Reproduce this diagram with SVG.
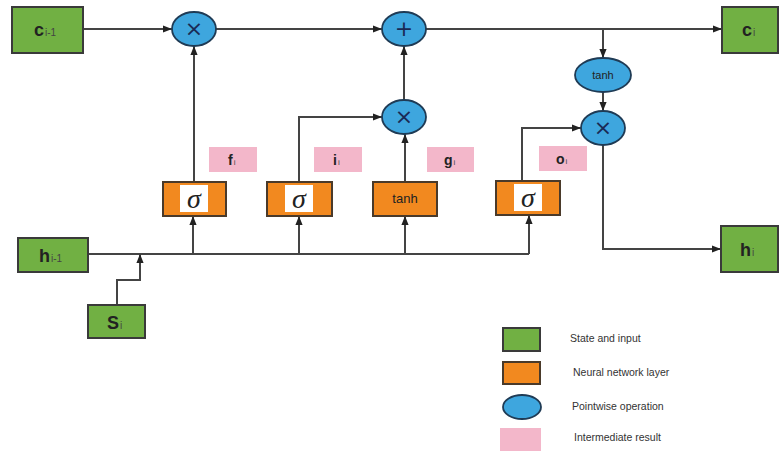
<svg xmlns="http://www.w3.org/2000/svg" width="779" height="451" viewBox="0 0 779 451">
<defs>
<marker id="ah" viewBox="0 0 10 10" refX="10" refY="5" markerWidth="9" markerHeight="9" markerUnits="userSpaceOnUse" orient="auto"><path d="M0,1 L10,5 L0,9 z" fill="#222"/></marker>
<style>
.st{fill:#71b043;stroke:#3a3a3a;stroke-width:2}
.nn{fill:#f2891f;stroke:#4a3a2a;stroke-width:2}
.pw{fill:#3ea6de;stroke:#1f3b55;stroke-width:1.8}
.ir{fill:#f3b7ca}
.wb{fill:#fff}
.ln{fill:none;stroke:#444;stroke-width:2;marker-end:url(#ah)}
.ln0{fill:none;stroke:#444;stroke-width:2}
.lb{font-family:"Liberation Sans",Arial,sans-serif;font-weight:bold;font-size:18px;fill:#222}
.sb{font-family:"Liberation Sans",Arial,sans-serif;font-size:10px;font-weight:normal;fill:#444}
.op{font-family:"DejaVu Sans",sans-serif;font-size:22px;fill:#1a2a55;text-anchor:middle}
.tn{font-family:"Liberation Sans",Arial,sans-serif;font-size:13px;fill:#222;text-anchor:middle}
.sg{font-family:"Liberation Serif","Times New Roman",serif;font-style:italic;font-size:28px;fill:#222;text-anchor:middle}
.lg{font-family:"Liberation Sans",Arial,sans-serif;font-size:10.5px;fill:#333}
</style>
</defs>
<rect width="779" height="451" fill="#fff"/>
<g id="connectors">
<path class="ln" d="M83,29 H172"/>
<path class="ln" d="M216,29 H382"/>
<path class="ln" d="M426,29 H722"/>
<path class="ln" d="M603,29 V58"/>
<path class="ln" d="M603,92 V111"/>
<path class="ln" d="M603,145 V249 H721"/>
<path class="ln" d="M194,182 V46"/>
<path class="ln" d="M299,182 V117 H382"/>
<path class="ln" d="M405,182 V134"/>
<path class="ln" d="M404,100 V46"/>
<path class="ln" d="M522,181 V128 H581"/>
<path class="ln0" d="M88,254 H529"/>
<path class="ln" d="M529,254 V215"/>
<path class="ln" d="M193,254 V216"/>
<path class="ln" d="M299,254 V216"/>
<path class="ln" d="M405,254 V216"/>
<path class="ln" d="M117,305 V280 H140 V254"/>
</g>
<g id="c_prev"><rect class="st" x="12" y="7" width="71" height="46"/><text class="lb" x="34" y="36">c<tspan class="sb" dx="1">i-1</tspan></text></g>
<g id="c_i"><rect class="st" x="722" y="7" width="56" height="46"/><text class="lb" x="742" y="36">c<tspan class="sb" dx="1">i</tspan></text></g>
<g id="h_prev"><rect class="st" x="18" y="238" width="70" height="34"/><text class="lb" x="39" y="262">h<tspan class="sb" dx="1">i-1</tspan></text></g>
<g id="h_i"><rect class="st" x="721" y="226" width="57" height="46"/><text class="lb" x="740" y="256">h<tspan class="sb" dx="1">i</tspan></text></g>
<g id="s_i"><rect class="st" x="88" y="305" width="57" height="33"/><text class="lb" x="107" y="329">S<tspan class="sb" dx="1">i</tspan></text></g>
<g id="mul_f"><ellipse class="pw" cx="194" cy="29" rx="22" ry="17"/><text class="op" x="194" y="36">×</text></g>
<g id="add"><ellipse class="pw" cx="404" cy="29" rx="22" ry="17"/><text class="op" x="404" y="36">+</text></g>
<g id="mul_i"><ellipse class="pw" cx="404" cy="117" rx="22" ry="17"/><text class="op" x="404" y="124">×</text></g>
<g id="mul_o"><ellipse class="pw" cx="603" cy="128" rx="22" ry="17"/><text class="op" x="603" y="135">×</text></g>
<g id="tanh_c"><ellipse class="pw" cx="603" cy="75" rx="28" ry="17"/><text class="tn" x="603" y="79" style="font-size:11px">tanh</text></g>
<g id="sigma_f"><rect class="nn" x="163" y="182" width="63" height="34"/><rect class="wb" x="180" y="185" width="28" height="27"/><text class="sg" x="194" y="208">σ</text></g>
<g id="sigma_i"><rect class="nn" x="267" y="182" width="65" height="34"/><rect class="wb" x="285" y="185" width="28" height="27"/><text class="sg" x="299" y="208">σ</text></g>
<g id="tanh_g"><rect class="nn" x="373" y="182" width="64" height="34"/><text class="tn" x="405" y="203">tanh</text></g>
<g id="sigma_o"><rect class="nn" x="496" y="181" width="64" height="34"/><rect class="wb" x="514" y="184" width="28" height="27"/><text class="sg" x="528" y="207">σ</text></g>
<g id="f_i"><rect class="ir" x="209" y="147" width="48" height="25"/><text class="lb" x="228" y="165" style="font-size:14px">f<tspan class="sb" dx="1" style="font-size:8px">i</tspan></text></g>
<g id="i_i"><rect class="ir" x="314" y="147" width="48" height="25"/><text class="lb" x="333" y="165" style="font-size:14px">i<tspan class="sb" dx="1" style="font-size:8px">i</tspan></text></g>
<g id="g_i"><rect class="ir" x="427" y="147" width="47" height="25"/><text class="lb" x="444" y="165" style="font-size:14px">g<tspan class="sb" dx="1" style="font-size:8px">i</tspan></text></g>
<g id="o_i"><rect class="ir" x="539" y="146" width="48" height="25"/><text class="lb" x="556" y="164" style="font-size:14px">o<tspan class="sb" dx="1" style="font-size:8px">i</tspan></text></g>
<g id="legend">
<rect class="st" x="503" y="328" width="37" height="23"/><text class="lg" x="570" y="342">State and input</text>
<rect class="nn" x="503" y="362" width="37" height="22"/><text class="lg" x="573" y="376">Neural network layer</text>
<ellipse class="pw" cx="522" cy="407" rx="19" ry="12"/><text class="lg" x="572" y="410">Pointwise operation</text>
<rect class="ir" x="500" y="428" width="41" height="23"/><text class="lg" x="574" y="441">Intermediate result</text>
</g>
</svg>
